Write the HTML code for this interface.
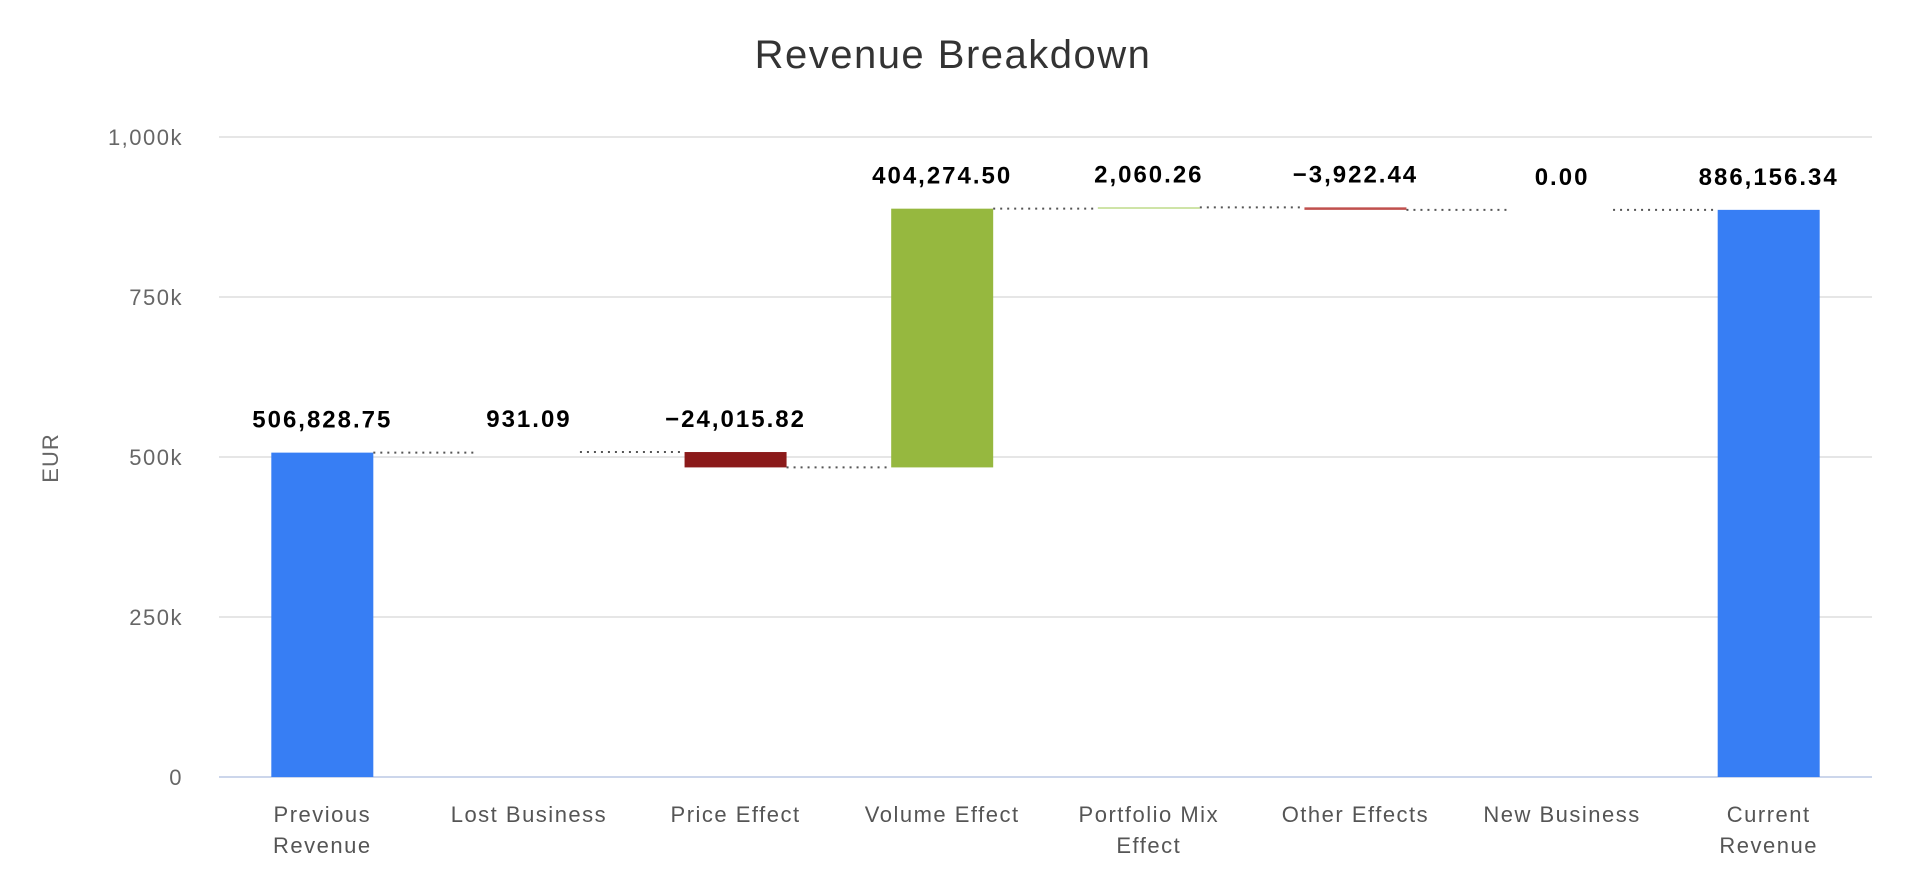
<!DOCTYPE html>
<html><head><meta charset="utf-8"><style>
html,body{margin:0;padding:0;background:#fff;}
svg{display:block;font-family:"Liberation Sans",sans-serif;}
</style></head><body>
<svg id="chart" width="1906" height="888">
<text x="953" y="68" text-anchor="middle" font-size="40" letter-spacing="1.5" fill="#333">Revenue Breakdown</text>
<text transform="translate(58,458) rotate(-90)" text-anchor="middle" font-size="22" letter-spacing="1" fill="#666">EUR</text>
<g id="grid"></g><g id="bars"></g><g id="labels"></g>
</svg>
<script>
const categories = [["Previous","Revenue"],["Lost Business"],["Price Effect"],["Volume Effect"],["Portfolio Mix","Effect"],["Other Effects"],["New Business"],["Current","Revenue"]];
const values = [506828.75, 931.09, -24015.82, 404274.50, 2060.26, -3922.44, 0.00, 886156.34];
const isTotal = [true, false, false, false, false, false, false, true];
const valueLabels = ["506,828.75","931.09","\u221224,015.82","404,274.50","2,060.26","\u22123,922.44","0.00","886,156.34"];
const yTicks = [0, 250000, 500000, 750000, 1000000];
const yTickLabels = ["0","250k","500k","750k","1,000k"];

const NS="http://www.w3.org/2000/svg";
const left=219,right=1872,y0=777,y1=137,yMax=1000000;
const band=(right-left)/categories.length, bw=102;
const y=v=>y0-(v/yMax)*(y0-y1);
const xc=i=>left+band*(i+0.5);
function mk(t,a,p){const e=document.createElementNS(NS,t);for(const k in a)e.setAttribute(k,a[k]);p.appendChild(e);return e;}
const g=document.getElementById('grid'),b=document.getElementById('bars'),l=document.getElementById('labels');
yTicks.forEach((t,i)=>{
  const ln=mk('line',{x1:left,x2:right,y1:y(t),y2:y(t),stroke:t===0?'#ccd6eb':'#e6e6e6','stroke-width':2},g);
  
  
  const tx=mk('text',{x:left-36,y:y(t)+8,'text-anchor':'end','font-size':22,'letter-spacing':1.5,fill:'#666'},g);
  tx.textContent=yTickLabels[i];
  
  
});
let cum=0;
values.forEach((v,i)=>{
  let lo,hi,col;
  if(isTotal[i]){lo=0;hi=v;cum=v;col='#377ef4';}
  else{const s=cum;cum+=v;lo=Math.min(s,cum);hi=Math.max(s,cum);
    col = i===2?'#8b1a1a':(i===3?'#96b83f':(i===1?'#ffffff':(v>0?'#b5d67a':(v<0?'#c0504d':'#ffffff'))));}
  const x=xc(i)-bw/2;
  const r=mk('rect',{x:x,y:y(hi),width:bw,height:Math.max(0,y(lo)-y(hi)),fill:col},b);
  
  
  if(i<values.length-1){
    const d=mk('line',{x1:x+bw,x2:xc(i+1)-bw/2,y1:y(cum),y2:y(cum),stroke:'#555','stroke-width':2,'stroke-dasharray':'2,5'},b);
    
    
  }
  const vt=mk('text',{x:xc(i),y:y(hi)-25,'text-anchor':'middle','font-size':24,'font-weight':'bold','letter-spacing':2,fill:'#000'},l);
  vt.textContent=valueLabels[i];
  
  
  categories[i].forEach((line,j)=>{
    const ct=mk('text',{x:xc(i),y:822+j*31,'text-anchor':'middle','font-size':22,'letter-spacing':1.5,fill:'#555'},l);
    ct.textContent=line;
    
    
  });
});
</script>
</body></html>
